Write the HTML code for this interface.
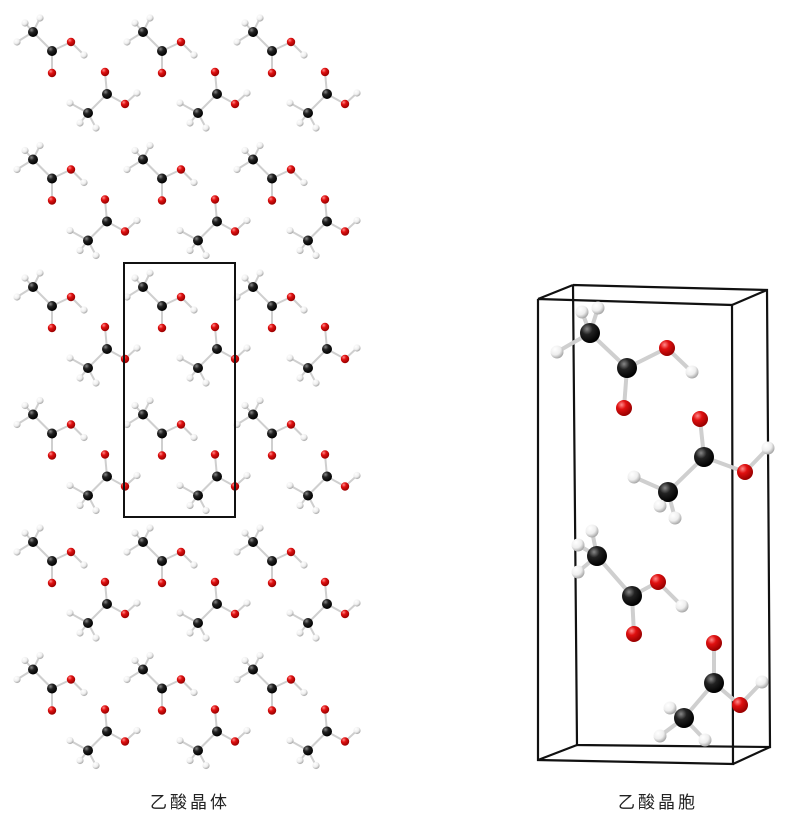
<!DOCTYPE html>
<html><head><meta charset="utf-8"><style>
body{margin:0;background:#fff;width:791px;height:820px;overflow:hidden}
svg{display:block}
text{font-family:"Liberation Sans","Noto Sans CJK SC",sans-serif}
</style></head><body>
<svg id="s" width="791" height="820" viewBox="0 0 791 820">
<defs>
<radialGradient id="gC" cx="35%" cy="30%" r="70%"><stop offset="0" stop-color="#888"/><stop offset="0.4" stop-color="#222"/><stop offset="1" stop-color="#000"/></radialGradient>
<radialGradient id="gO" cx="35%" cy="30%" r="70%"><stop offset="0" stop-color="#ff8a8a"/><stop offset="0.4" stop-color="#e01010"/><stop offset="1" stop-color="#900"/></radialGradient>
<radialGradient id="gH" cx="35%" cy="30%" r="70%"><stop offset="0" stop-color="#fff"/><stop offset="0.6" stop-color="#eee"/><stop offset="1" stop-color="#aaa"/></radialGradient>
</defs>
<g id="left"></g>
<rect x="124" y="263" width="111" height="254" fill="none" stroke="#111" stroke-width="2"/>
<g id="box" stroke="#111" stroke-width="2.2" fill="none">
<polyline points="573,285 767,290 770,747 577,745 573,285"/>
<polyline points="538,299 732,305 733,764 538,760 538,299"/>
<line x1="538" y1="299" x2="573" y2="285"/><line x1="732" y1="305" x2="767" y2="290"/>
<line x1="538" y1="760" x2="577" y2="745"/><line x1="733" y1="764" x2="770" y2="747"/>
</g>
<g id="right"></g>
<text x="190" y="808" font-size="17" text-anchor="middle" letter-spacing="3" fill="#222">乙酸晶体</text>
<text x="658" y="808" font-size="17" text-anchor="middle" letter-spacing="3" fill="#222">乙酸晶胞</text>
</svg>
<script>
const motifAtoms=[["H",25,23],["H",40,18],["H",17,42],["C",33,32],["C",52,51],["O",71,42],["H",84,55],["O",52,73],
["O",105,72],["C",107,94],["O",125,104],["H",137,93],["C",88,113],["H",70,103],["H",80,123],["H",96,128]];
const motifBonds=[[0,3],[1,3],[2,3],[3,4],[4,5],[5,6],[4,7],[8,9],[9,10],[10,11],[9,12],[12,13],[12,14],[12,15]];
const colOffsets=[0,110,220];
const rowOffsets=[0,127.5,255,382.5,510,637.5];
const rightAtoms=[["H",582,312],["H",598,308],["H",557,352],["C",590,333],["C",627,368],["O",667,348],["H",692,372],["O",624,408],
["O",700,419],["C",704,457],["O",745,472],["H",768,448],["C",668,492],["H",634,477],["H",660,506],["H",675,518],
["H",578,545],["H",592,531],["H",578,572],["C",597,556],["C",632,596],["O",658,582],["H",682,606],["O",634,634],
["O",714,643],["C",714,683],["O",740,705],["H",762,682],["C",684,718],["H",660,736],["H",670,708],["H",705,740]];
const rightBonds=[];
for(let k=0;k<2;k++){const o=k*16;motifBonds.forEach(b=>rightBonds.push([b[0]+o,b[1]+o]));}
const NS="http://www.w3.org/2000/svg";
function draw(g,atoms,bonds,dx,dy,rs,bw){
 bonds.forEach(b=>{const a=atoms[b[0]],c=atoms[b[1]];
  const l=document.createElementNS(NS,"line");
  l.setAttribute("x1",a[1]+dx);l.setAttribute("y1",a[2]+dy);l.setAttribute("x2",c[1]+dx);l.setAttribute("y2",c[2]+dy);
  l.setAttribute("stroke","#cfcfcf");l.setAttribute("stroke-width",bw);
  
  
  g.appendChild(l);});
 atoms.forEach(a=>{const e=document.createElementNS(NS,"circle");
  e.setAttribute("cx",a[1]+dx);e.setAttribute("cy",a[2]+dy);e.setAttribute("r",rs[a[0]]);
  e.setAttribute("fill","url(#g"+a[0]+")");
  
  
  g.appendChild(e);});
}
const L=document.getElementById("left");
rowOffsets.forEach(ry=>colOffsets.forEach(cx=>draw(L,motifAtoms,motifBonds,cx,ry,{C:5,O:4.2,H:3.6},2)));
draw(document.getElementById("right"),rightAtoms,rightBonds,0,0,{C:10,O:8,H:6.5},4);
</script>
</body></html>
